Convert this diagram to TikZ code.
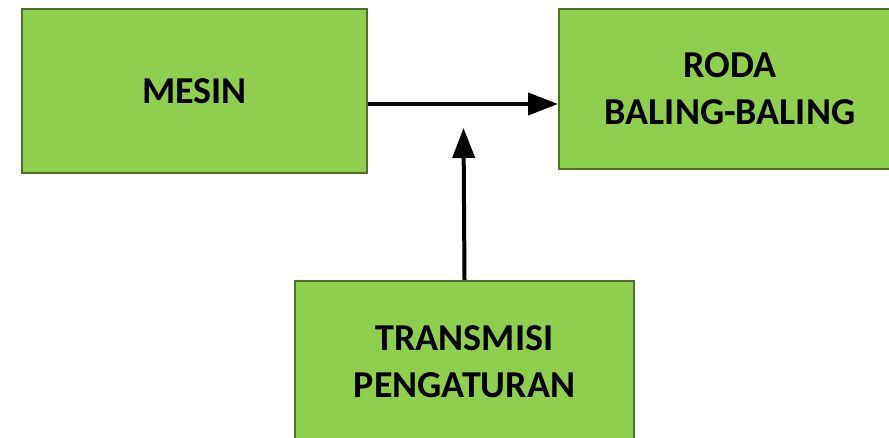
\documentclass[tikz,border=0pt]{standalone}
\usepackage{fontspec}
\setmainfont{Carlito}
\usetikzlibrary{arrows.meta}
\definecolor{boxfill}{HTML}{8FCF50}
\definecolor{boxline}{HTML}{4A7228}
\begin{document}
\begin{tikzpicture}[x=1pt,y=-1pt,
  block/.style={draw=boxline,line width=2pt,fill=boxfill,anchor=north west,
    inner sep=0pt,align=center,
    font=\fontsize{38}{47}\selectfont\bfseries},
  link/.style={line width=4pt,-{Triangle[length=30pt,width=22pt]}}]
  \useasboundingbox (0,0) rectangle (889,437);
  \begin{scope}
  \clip (0,0) rectangle (889,437);
  \node[block,minimum width=345pt,minimum height=164pt] (mesin) at (21,8) {MESIN};
  \node[block,minimum width=342pt,minimum height=160pt] (roda) at (558,8) {RODA\\BALING-BALING};
  \node[block,minimum width=339pt,minimum height=162pt] (trans) at (294,280) {TRANSMISI\\PENGATURAN};
  \end{scope}
  % shaft line and the regulator input
  \coordinate (shaft) at (0,104);
  \coordinate (tip) at (463.5,128);
  \draw[link] (mesin.east |- shaft) -- (roda.west |- shaft);
  \draw[link] (trans.north) -- (tip);
\end{tikzpicture}
\end{document}
